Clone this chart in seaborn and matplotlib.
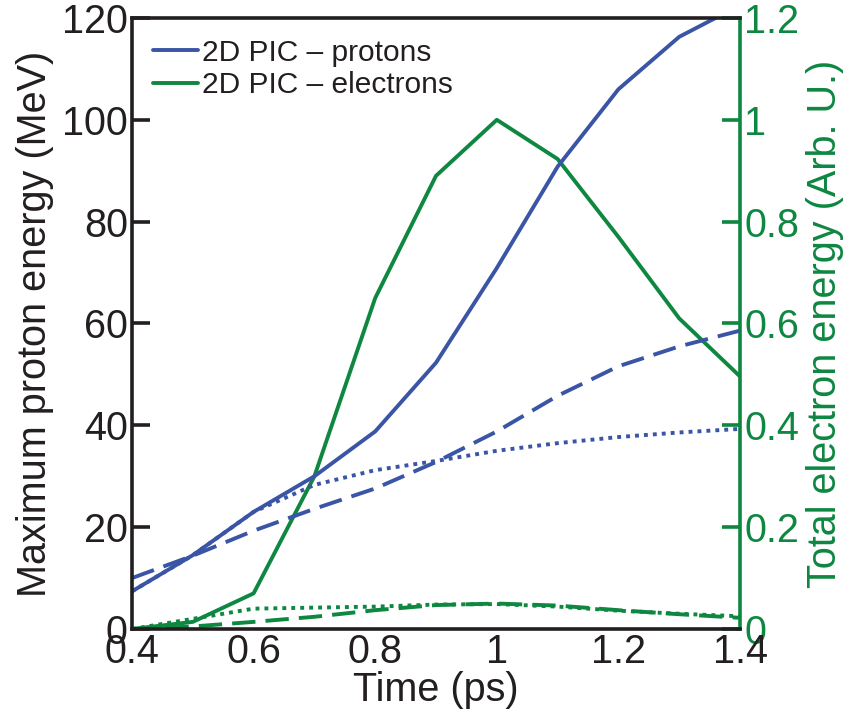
import numpy as np
import pandas as pd
import matplotlib
matplotlib.use("Agg")
import matplotlib.pyplot as plt
import seaborn as sns

# Simulation time (ps)
time_ps = [0.4, 0.5, 0.6, 0.7, 0.8, 0.9, 1.0, 1.1, 1.2, 1.3, 1.4]

# Maximum proton energy (MeV) for three cases
proton_solid = [7.4, 14.5, 23.0, 30.0, 38.8, 52.3, 70.9, 90.8, 106.0, 116.3, 122.5]
proton_dashed = [10.0, 14.4, 19.3, 23.6, 27.6, 32.8, 38.8, 45.8, 51.6, 55.5, 58.6]
proton_dotted = [7.4, 14.5, 23.0, 28.3, 31.2, 33.0, 35.0, 36.5, 37.7, 38.6, 39.3]

# Total electron energy (arb. units) for the same three cases
electron_solid = [0.0, 0.014, 0.07, 0.30, 0.65, 0.89, 1.0, 0.923, 0.77, 0.61, 0.496]
electron_dashed = [0.0, 0.005, 0.014, 0.024, 0.037, 0.047, 0.050, 0.046, 0.037, 0.029, 0.022]
electron_dotted = [0.0, 0.02, 0.04, 0.042, 0.044, 0.048, 0.049, 0.044, 0.036, 0.030, 0.025]

x_ticks = [0.4, 0.6, 0.8, 1.0, 1.2, 1.4]
x_tick_labels = ["0.4", "0.6", "0.8", "1", "1.2", "1.4"]
left_ticks = [0, 20, 40, 60, 80, 100, 120]
left_tick_labels = ["0", "20", "40", "60", "80", "100", "120"]
right_ticks = [0, 0.2, 0.4, 0.6, 0.8, 1.0, 1.2]
right_tick_labels = ["0", "0.2", "0.4", "0.6", "0.8", "1", "1.2"]

BLUE = "#3A55A5"
GREEN = "#0E8741"
INK = "#231F20"
LW = 2.8

sns.set_style("white")
plt.rcParams["font.family"] = ["Liberation Sans", "DejaVu Sans"]
plt.rcParams["axes.linewidth"] = 2.6

protons = pd.DataFrame({"t": time_ps, "solid": proton_solid,
                        "dashed": proton_dashed, "dotted": proton_dotted})
electrons = pd.DataFrame({"t": time_ps, "solid": electron_solid,
                          "dashed": electron_dashed, "dotted": electron_dotted})

styles = {"solid": (None, "2D PIC \u2013 protons", "2D PIC \u2013 electrons"),
          "dashed": ((6.0, 2.6), None, None),
          "dotted": ((1.0, 1.3), None, None)}

fig = plt.figure(figsize=(8.51, 7.25), dpi=100)
ax = fig.add_axes([0.1551, 0.1324, 0.7145, 0.8428])
ax2 = ax.twinx()

for key, (dash, lab_p, lab_e) in styles.items():
    sns.lineplot(data=protons, x="t", y=key, ax=ax, color=BLUE, lw=LW,
                 label=lab_p, legend=False)
    sns.lineplot(data=electrons, x="t", y=key, ax=ax2, color=GREEN, lw=LW,
                 label=lab_e, legend=False)
    if dash is not None:
        ax.lines[-1].set_dashes(dash)
        ax2.lines[-1].set_dashes(dash)

ax.set_xlim(0.4, 1.4)
ax.set_ylim(0, 120)
ax2.set_ylim(0, 1.2)

FS = 28.5
ax.set_xticks(x_ticks)
ax.set_xticklabels(x_tick_labels, fontsize=FS)
ax.set_yticks(left_ticks)
ax.set_yticklabels(left_tick_labels, fontsize=FS)
ax2.set_yticks(right_ticks)
ax2.set_yticklabels(right_tick_labels, fontsize=FS, color=GREEN)

ax.tick_params(direction="in", length=13, width=2.6, colors=INK,
               top=False, right=False)
ax.tick_params(axis="x", pad=3)
ax.tick_params(axis="y", pad=3)
ax2.tick_params(axis="y", direction="in", length=13, width=2.6,
                colors=GREEN, pad=3)

for s in ["left", "bottom", "top"]:
    ax.spines[s].set_color(INK)
ax.spines["right"].set_visible(False)
for s in ["left", "bottom", "top"]:
    ax2.spines[s].set_visible(False)
ax2.spines["right"].set_color(GREEN)
ax2.spines["right"].set_linewidth(2.6)

ax.set_xlabel("Time (ps)", fontsize=FS, color=INK, labelpad=0)
ax.set_ylabel("Maximum proton energy (MeV)", fontsize=FS, color=INK, labelpad=6)
ax2.set_ylabel("Total electron energy (Arb. U.)", fontsize=FS, color=GREEN, labelpad=5)

handles = [ax.lines[0], ax2.lines[0]]
leg = ax.legend(handles, [h.get_label() for h in handles], loc="upper left",
                frameon=False, fontsize=21.5, handlelength=1.5,
                handletextpad=0.15, labelspacing=0.15,
                borderaxespad=0.3)
ax.set_zorder(ax2.get_zorder() + 1)
ax.patch.set_visible(False)
for t in leg.get_texts():
    t.set_color(INK)

fig.savefig("out.png", dpi=100)
